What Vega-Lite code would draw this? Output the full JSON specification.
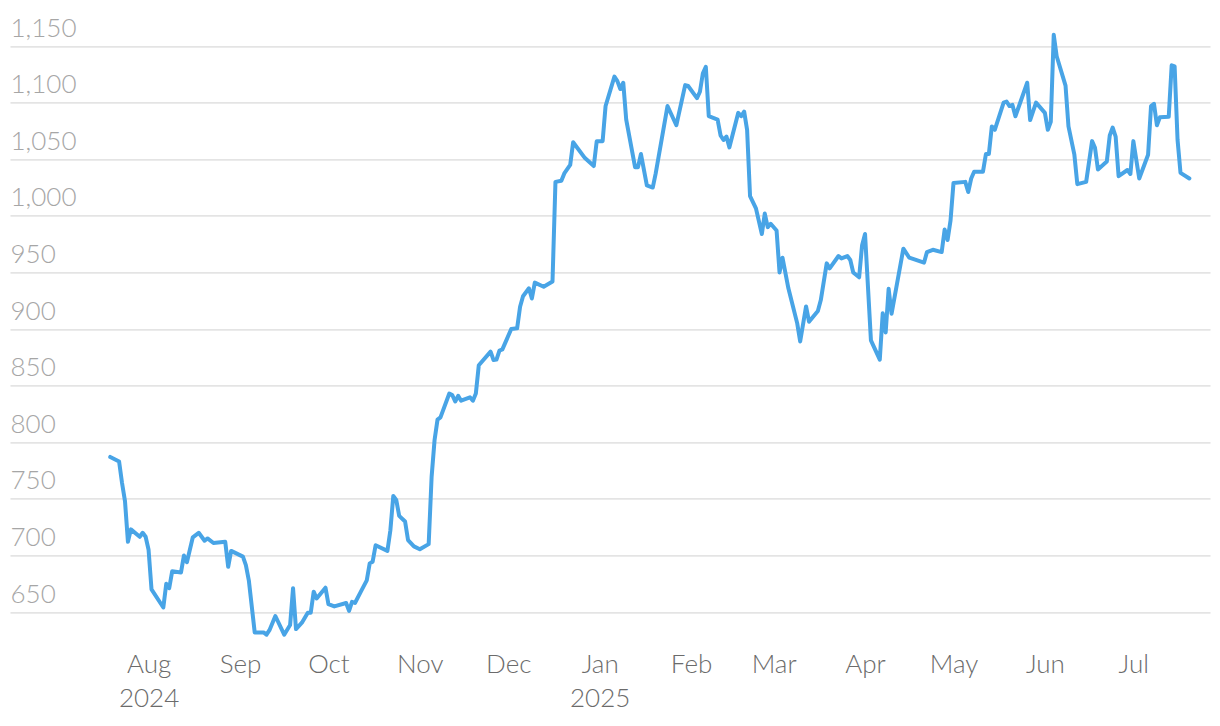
{
  "$schema": "https://vega.github.io/schema/vega-lite/v6.json",
  "width": 1200,
  "height": 622.6,
  "autosize": {"type": "none"},
  "padding": {"left": 10, "top": 23.4, "right": 10, "bottom": 80},
  "background": "white",
  "config": {"view": {"stroke": null}, "font": "Lato"},
  "data": {"values": [
    {"date": "2024-07-19", "price": 787},
    {"date": "2024-07-22", "price": 783},
    {"date": "2024-07-23", "price": 764},
    {"date": "2024-07-24", "price": 748},
    {"date": "2024-07-25", "price": 712},
    {"date": "2024-07-26", "price": 723},
    {"date": "2024-07-29", "price": 716.5},
    {"date": "2024-07-30", "price": 720},
    {"date": "2024-07-31", "price": 716.5},
    {"date": "2024-08-01", "price": 705},
    {"date": "2024-08-02", "price": 670},
    {"date": "2024-08-06", "price": 654},
    {"date": "2024-08-07", "price": 675},
    {"date": "2024-08-08", "price": 671},
    {"date": "2024-08-09", "price": 686},
    {"date": "2024-08-12", "price": 685},
    {"date": "2024-08-13", "price": 700},
    {"date": "2024-08-14", "price": 694},
    {"date": "2024-08-16", "price": 716},
    {"date": "2024-08-18", "price": 720},
    {"date": "2024-08-20", "price": 713},
    {"date": "2024-08-21", "price": 715},
    {"date": "2024-08-23", "price": 711},
    {"date": "2024-08-27", "price": 712},
    {"date": "2024-08-28", "price": 690},
    {"date": "2024-08-29", "price": 704},
    {"date": "2024-09-02", "price": 699},
    {"date": "2024-09-03", "price": 691.5},
    {"date": "2024-09-04", "price": 678},
    {"date": "2024-09-06", "price": 632},
    {"date": "2024-09-09", "price": 632},
    {"date": "2024-09-10", "price": 630},
    {"date": "2024-09-11", "price": 634},
    {"date": "2024-09-13", "price": 646.5},
    {"date": "2024-09-16", "price": 630},
    {"date": "2024-09-18", "price": 638.5},
    {"date": "2024-09-19", "price": 671},
    {"date": "2024-09-20", "price": 635},
    {"date": "2024-09-22", "price": 640.6},
    {"date": "2024-09-24", "price": 649.4},
    {"date": "2024-09-25", "price": 649.4},
    {"date": "2024-09-26", "price": 668},
    {"date": "2024-09-27", "price": 662},
    {"date": "2024-09-30", "price": 671.5},
    {"date": "2024-10-01", "price": 657},
    {"date": "2024-10-03", "price": 655},
    {"date": "2024-10-07", "price": 658},
    {"date": "2024-10-08", "price": 651},
    {"date": "2024-10-09", "price": 659},
    {"date": "2024-10-10", "price": 658},
    {"date": "2024-10-12", "price": 668},
    {"date": "2024-10-14", "price": 678},
    {"date": "2024-10-15", "price": 693},
    {"date": "2024-10-16", "price": 694.5},
    {"date": "2024-10-17", "price": 709},
    {"date": "2024-10-21", "price": 704},
    {"date": "2024-10-22", "price": 722},
    {"date": "2024-10-23", "price": 752.5},
    {"date": "2024-10-24", "price": 749},
    {"date": "2024-10-25", "price": 735},
    {"date": "2024-10-27", "price": 730},
    {"date": "2024-10-28", "price": 713.6},
    {"date": "2024-10-30", "price": 708},
    {"date": "2024-11-01", "price": 705.4},
    {"date": "2024-11-04", "price": 710},
    {"date": "2024-11-05", "price": 769.5},
    {"date": "2024-11-06", "price": 802},
    {"date": "2024-11-07", "price": 820},
    {"date": "2024-11-08", "price": 822},
    {"date": "2024-11-11", "price": 843},
    {"date": "2024-11-12", "price": 841.7},
    {"date": "2024-11-13", "price": 836},
    {"date": "2024-11-14", "price": 841},
    {"date": "2024-11-15", "price": 836.7},
    {"date": "2024-11-18", "price": 839.7},
    {"date": "2024-11-19", "price": 836.7},
    {"date": "2024-11-20", "price": 843},
    {"date": "2024-11-21", "price": 868},
    {"date": "2024-11-25", "price": 880},
    {"date": "2024-11-26", "price": 872.6},
    {"date": "2024-11-27", "price": 873},
    {"date": "2024-11-28", "price": 881},
    {"date": "2024-11-29", "price": 882},
    {"date": "2024-12-02", "price": 900},
    {"date": "2024-12-04", "price": 900.6},
    {"date": "2024-12-05", "price": 919.7},
    {"date": "2024-12-06", "price": 929},
    {"date": "2024-12-08", "price": 936},
    {"date": "2024-12-09", "price": 927},
    {"date": "2024-12-10", "price": 941},
    {"date": "2024-12-13", "price": 937.4},
    {"date": "2024-12-16", "price": 942},
    {"date": "2024-12-17", "price": 1030},
    {"date": "2024-12-19", "price": 1031},
    {"date": "2024-12-20", "price": 1037.5},
    {"date": "2024-12-22", "price": 1045},
    {"date": "2024-12-23", "price": 1065},
    {"date": "2024-12-27", "price": 1051},
    {"date": "2024-12-30", "price": 1044},
    {"date": "2024-12-31", "price": 1066},
    {"date": "2025-01-02", "price": 1066},
    {"date": "2025-01-03", "price": 1097},
    {"date": "2025-01-06", "price": 1123},
    {"date": "2025-01-07", "price": 1119},
    {"date": "2025-01-08", "price": 1112},
    {"date": "2025-01-09", "price": 1117.6},
    {"date": "2025-01-10", "price": 1085},
    {"date": "2025-01-13", "price": 1043},
    {"date": "2025-01-14", "price": 1043},
    {"date": "2025-01-15", "price": 1054.6},
    {"date": "2025-01-17", "price": 1027},
    {"date": "2025-01-19", "price": 1025},
    {"date": "2025-01-20", "price": 1037.5},
    {"date": "2025-01-24", "price": 1097},
    {"date": "2025-01-27", "price": 1080},
    {"date": "2025-01-30", "price": 1115.5},
    {"date": "2025-01-31", "price": 1114.7},
    {"date": "2025-02-03", "price": 1104},
    {"date": "2025-02-04", "price": 1109.6},
    {"date": "2025-02-05", "price": 1126},
    {"date": "2025-02-06", "price": 1131.7},
    {"date": "2025-02-07", "price": 1088},
    {"date": "2025-02-10", "price": 1085},
    {"date": "2025-02-11", "price": 1071},
    {"date": "2025-02-12", "price": 1067},
    {"date": "2025-02-13", "price": 1070},
    {"date": "2025-02-14", "price": 1060.5},
    {"date": "2025-02-17", "price": 1091},
    {"date": "2025-02-18", "price": 1088},
    {"date": "2025-02-19", "price": 1092},
    {"date": "2025-02-20", "price": 1076},
    {"date": "2025-02-21", "price": 1017.5},
    {"date": "2025-02-23", "price": 1006.6},
    {"date": "2025-02-25", "price": 984},
    {"date": "2025-02-26", "price": 1002},
    {"date": "2025-02-27", "price": 990},
    {"date": "2025-02-28", "price": 993},
    {"date": "2025-03-02", "price": 987},
    {"date": "2025-03-03", "price": 950},
    {"date": "2025-03-04", "price": 963},
    {"date": "2025-03-06", "price": 936},
    {"date": "2025-03-09", "price": 905},
    {"date": "2025-03-10", "price": 889},
    {"date": "2025-03-12", "price": 920},
    {"date": "2025-03-13", "price": 906.5},
    {"date": "2025-03-16", "price": 916},
    {"date": "2025-03-17", "price": 925.6},
    {"date": "2025-03-19", "price": 958},
    {"date": "2025-03-20", "price": 953.6},
    {"date": "2025-03-23", "price": 964.5},
    {"date": "2025-03-24", "price": 962.4},
    {"date": "2025-03-26", "price": 964.5},
    {"date": "2025-03-27", "price": 961},
    {"date": "2025-03-28", "price": 950},
    {"date": "2025-03-30", "price": 945.7},
    {"date": "2025-03-31", "price": 974},
    {"date": "2025-04-01", "price": 984},
    {"date": "2025-04-03", "price": 890},
    {"date": "2025-04-06", "price": 873},
    {"date": "2025-04-07", "price": 914},
    {"date": "2025-04-08", "price": 897},
    {"date": "2025-04-09", "price": 935.5},
    {"date": "2025-04-10", "price": 913.6},
    {"date": "2025-04-14", "price": 971},
    {"date": "2025-04-16", "price": 963},
    {"date": "2025-04-21", "price": 958.6},
    {"date": "2025-04-22", "price": 968},
    {"date": "2025-04-24", "price": 970},
    {"date": "2025-04-27", "price": 968},
    {"date": "2025-04-28", "price": 988},
    {"date": "2025-04-29", "price": 978.6},
    {"date": "2025-04-30", "price": 996},
    {"date": "2025-05-01", "price": 1029},
    {"date": "2025-05-05", "price": 1030},
    {"date": "2025-05-06", "price": 1021},
    {"date": "2025-05-07", "price": 1033},
    {"date": "2025-05-08", "price": 1039},
    {"date": "2025-05-11", "price": 1039},
    {"date": "2025-05-12", "price": 1054.6},
    {"date": "2025-05-13", "price": 1054.6},
    {"date": "2025-05-14", "price": 1079},
    {"date": "2025-05-15", "price": 1076},
    {"date": "2025-05-18", "price": 1100},
    {"date": "2025-05-19", "price": 1101},
    {"date": "2025-05-20", "price": 1097},
    {"date": "2025-05-21", "price": 1098},
    {"date": "2025-05-22", "price": 1088},
    {"date": "2025-05-26", "price": 1117.6},
    {"date": "2025-05-27", "price": 1084.6},
    {"date": "2025-05-29", "price": 1100},
    {"date": "2025-06-01", "price": 1091},
    {"date": "2025-06-02", "price": 1076},
    {"date": "2025-06-03", "price": 1083},
    {"date": "2025-06-04", "price": 1160},
    {"date": "2025-06-05", "price": 1141},
    {"date": "2025-06-08", "price": 1115},
    {"date": "2025-06-09", "price": 1079},
    {"date": "2025-06-11", "price": 1054},
    {"date": "2025-06-12", "price": 1028},
    {"date": "2025-06-15", "price": 1030},
    {"date": "2025-06-17", "price": 1066},
    {"date": "2025-06-18", "price": 1060},
    {"date": "2025-06-19", "price": 1041},
    {"date": "2025-06-22", "price": 1048},
    {"date": "2025-06-23", "price": 1071},
    {"date": "2025-06-24", "price": 1078},
    {"date": "2025-06-25", "price": 1070},
    {"date": "2025-06-26", "price": 1035},
    {"date": "2025-06-29", "price": 1040.5},
    {"date": "2025-06-30", "price": 1037},
    {"date": "2025-07-01", "price": 1066},
    {"date": "2025-07-03", "price": 1033},
    {"date": "2025-07-06", "price": 1054},
    {"date": "2025-07-07", "price": 1097},
    {"date": "2025-07-08", "price": 1099},
    {"date": "2025-07-09", "price": 1080},
    {"date": "2025-07-10", "price": 1087},
    {"date": "2025-07-13", "price": 1087.5},
    {"date": "2025-07-14", "price": 1133},
    {"date": "2025-07-15", "price": 1132},
    {"date": "2025-07-16", "price": 1067},
    {"date": "2025-07-17", "price": 1038},
    {"date": "2025-07-20", "price": 1033}
  ]},
  "mark": {"type": "line", "color": "#48A4E6", "strokeWidth": 4, "strokeJoin": "round", "strokeCap": "round"},
  "encoding": {
    "x": {
      "field": "date", "type": "temporal",
      "scale": {"type": "utc", "domain": [
        {"year": 2024, "month": 6, "date": 15, "utc": true},
        {"year": 2025, "month": 7, "date": 27, "utc": true}
      ]},
      "axis": {
        "title": null, "domain": false, "ticks": false, "grid": false,
        "values": [
          {"year": 2024, "month": 8, "date": 1, "utc": true},
          {"year": 2024, "month": 9, "date": 1, "utc": true},
          {"year": 2024, "month": 10, "date": 1, "utc": true},
          {"year": 2024, "month": 11, "date": 1, "utc": true},
          {"year": 2024, "month": 12, "date": 1, "utc": true},
          {"year": 2025, "month": 1, "date": 1, "utc": true},
          {"year": 2025, "month": 2, "date": 1, "utc": true},
          {"year": 2025, "month": 3, "date": 1, "utc": true},
          {"year": 2025, "month": 4, "date": 1, "utc": true},
          {"year": 2025, "month": 5, "date": 1, "utc": true},
          {"year": 2025, "month": 6, "date": 1, "utc": true},
          {"year": 2025, "month": 7, "date": 1, "utc": true}
        ],
        "labelExpr": "utcFormat(datum.value, '%m') == '01' || utcFormat(datum.value, '%Y-%m') == '2024-08' ? [utcFormat(datum.value, '%b'), utcFormat(datum.value, '%Y')] : utcFormat(datum.value, '%b')",
        "labelFont": "Lato", "labelFontSize": 26, "labelFontWeight": 300, "labelColor": "#6b6b6b",
        "labelPadding": 5, "labelLineHeight": 34, "labelFlush": false, "labelOverlap": false
      }
    },
    "y": {
      "field": "price", "type": "quantitative",
      "scale": {"domain": [620, 1170], "nice": false, "zero": false},
      "axis": {
        "title": null, "domain": false, "ticks": false,
        "values": [650, 700, 750, 800, 850, 900, 950, 1000, 1050, 1100, 1150],
        "format": ",.0f",
        "labelAlign": "left", "labelBaseline": "alphabetic", "labelPadding": 0, "labelOffset": -10,
        "labelFont": "Lato", "labelFontSize": 26, "labelFontWeight": 300, "labelColor": "#a6a6a6",
        "grid": true, "gridColor": "#e4e4e4", "gridWidth": 1.6
      }
    }
  }
}
